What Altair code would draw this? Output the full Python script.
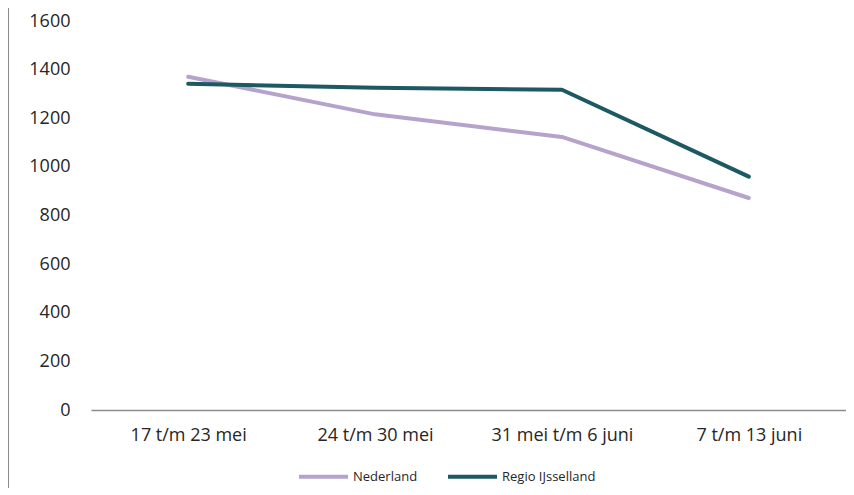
import altair as alt
import pandas as pd

weeks = ["17 t/m 23 mei", "24 t/m 30 mei", "31 mei t/m 6 juni", "7 t/m 13 juni"]
nederland = [1371, 1216, 1123, 872]
regio = [1342, 1325, 1317, 960]
series_names = ["Nederland", "Regio IJsselland"]
colors = ["#b5a3cc", "#1d5963"]
y_ticks = [0, 200, 400, 600, 800, 1000, 1200, 1400, 1600]

rows = []
for w, v in zip(weeks, nederland):
    rows.append({"week": w, "value": v, "reeks": series_names[0]})
for w, v in zip(weeks, regio):
    rows.append({"week": w, "value": v, "reeks": series_names[1]})
df = pd.DataFrame(rows)

FONT = "Open Sans"

lines = alt.Chart(df).mark_line(strokeWidth=4, strokeCap="round", strokeJoin="round").encode(
    x=alt.X("week:N", sort=weeks, title=None,
            scale=alt.Scale(type="point", padding=0.52),
            axis=alt.Axis(labelAngle=0, ticks=False, domainColor="#8c8c8c", domainWidth=1.5,
                          labelPadding=16, labelFontSize=18, labelFont=FONT, labelColor="#262626",
                          grid=False)),
    y=alt.Y("value:Q", title=None, scale=alt.Scale(domain=[0, 1600], nice=False),
            axis=alt.Axis(values=y_ticks, format="d", domain=False, ticks=False, grid=False,
                          labelPadding=21, labelFontSize=18, labelFont=FONT, labelColor="#262626")),
    color=alt.Color("reeks:N", scale=alt.Scale(domain=series_names, range=colors),
                    legend=alt.Legend(title=None, orient="none", legendX=206, legendY=429,
                                      direction="horizontal", symbolType="stroke",
                                      symbolSize=2401, symbolStrokeWidth=4, labelFont=FONT,
                                      labelFontSize=13, labelColor="#262626", columnPadding=22,
                                      labelOffset=3, padding=0)),
)

border = alt.Chart(pd.DataFrame({"k": [0]})).mark_rule(color="#8c8c8c", strokeWidth=2).encode(
    x=alt.value(-83), y=alt.value(-21), y2=alt.value(478)
)

chart = alt.layer(border, lines).properties(
    width=755, height=389,
    background="white",
    autosize=alt.AutoSizeParams(type="none"),
    padding={"left": 83, "top": 13, "right": 0, "bottom": 78},
).configure_view(stroke=None)

chart.save("out.html", embed_options={"renderer": "svg", "actions": False})
